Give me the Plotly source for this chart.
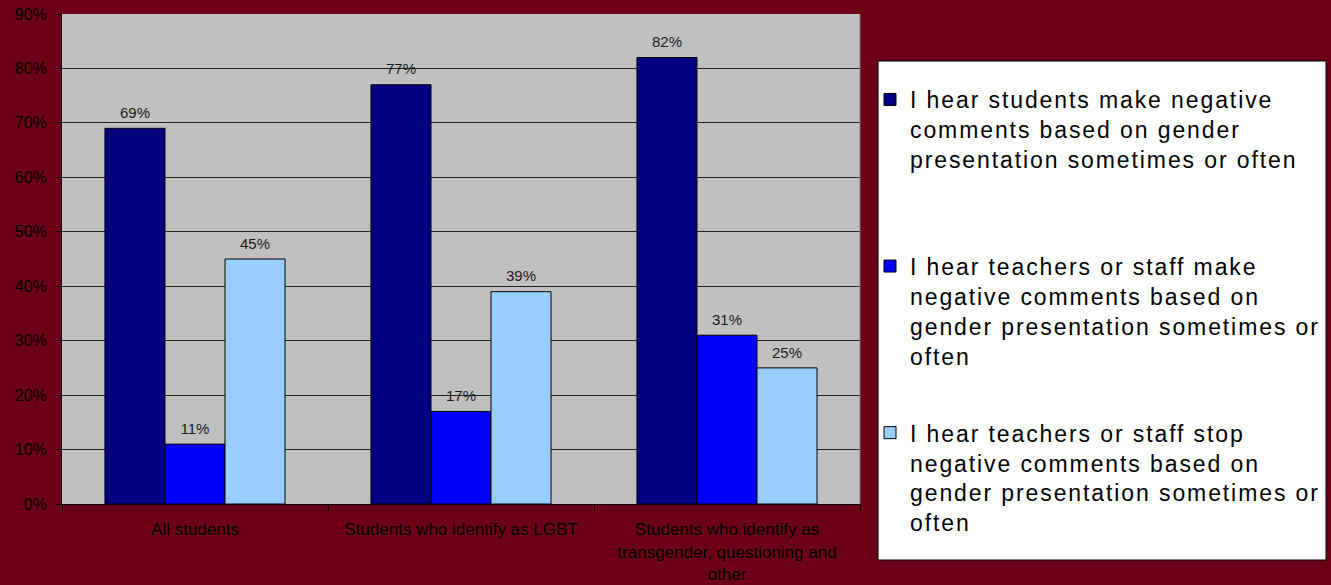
import plotly.graph_objects as go

categories = [
    "All students",
    "Students who identify as LGBT",
    "Students who identify as<br>transgender, questioning and<br>other",
]
series_names = [
    "I hear students make negative<br>comments based on gender<br>presentation sometimes or often<br> ",
    "I hear teachers or staff make<br>negative comments based on<br>gender presentation sometimes or<br>often",
    "I hear teachers or staff stop<br>negative comments based on<br>gender presentation sometimes or<br>often",
]
students_negative = [0.69, 0.77, 0.82]
staff_negative = [0.11, 0.17, 0.31]
staff_stop = [0.45, 0.39, 0.25]
series_values = [students_negative, staff_negative, staff_stop]
series_colors = ["#000080", "#0000FF", "#99CCFF"]
y_tick_values = [0, 0.1, 0.2, 0.3, 0.4, 0.5, 0.6, 0.7, 0.8, 0.9]
y_tick_labels = ["0%", "10%", "20%", "30%", "40%", "50%", "60%", "70%", "80%", "90%"]

W, H = 1331, 585
L, R, T, B = 62, 860, 14, 504
BARGAP = 0.323


def spaced(label):
    parts = label.split("<br>")
    return "<br>".join(
        '<span style="letter-spacing:1.9px">' + p + "</span>" if p.strip() else p
        for p in parts
    )


fig = go.Figure()
for i, (name, vals, col) in enumerate(zip(series_names, series_values, series_colors)):
    fig.add_trace(
        go.Bar(
            x=categories,
            y=vals,
            name=spaced(name),
            legendgroup=f"g{i}",
            offsetgroup=f"o{i}",
            marker=dict(color=col, line=dict(color="#000000", width=1)),
            hoverinfo="skip",
        )
    )
for i, vals in enumerate(series_values):
    fig.add_trace(
        go.Scatter(
            x=categories,
            y=vals,
            mode="markers+text",
            offsetgroup=f"o{i}",
            marker=dict(size=9, color="rgba(0,0,0,0)"),
            text=[f"{round(v*100)}%" for v in vals],
            textposition="top center",
            textfont=dict(family="Liberation Sans, Arial", size=15, color="#1a1a1a"),
            showlegend=False,
            cliponaxis=False,
            hoverinfo="skip",
        )
    )

px2x = lambda px: (px - L) / (R - L)
px2y = lambda py: (B - py) / (B - T)

fig.add_shape(
    type="rect", xref="paper", yref="paper",
    x0=px2x(878), x1=px2x(1326), y0=px2y(560), y1=px2y(61),
    fillcolor="#FFFFFF", line=dict(color="#000000", width=1), layer="below",
)
fig.add_shape(
    type="line", xref="paper", yref="paper",
    x0=1, x1=1, y0=0, y1=1,
    line=dict(color="#808080", width=1),
)

fig.update_layout(
    width=W, height=H,
    margin=dict(l=L, r=W - R, t=T, b=H - B, pad=0, autoexpand=False),
    paper_bgcolor="#6B0016",
    plot_bgcolor="#C0C0C0",
    barmode="group",
    bargap=BARGAP,
    bargroupgap=0,
    scattermode="group",
    scattergap=BARGAP,
    font=dict(family="Liberation Sans, Arial", color="#000000"),
    showlegend=True,
    legend=dict(
        x=px2x(870), y=px2y(78), xanchor="left", yanchor="top",
        bgcolor="rgba(0,0,0,0)", borderwidth=0,
        font=dict(family="Liberation Sans, Arial", size=23, color="#000000"),
        valign="top",
        tracegroupgap=44,
        traceorder="grouped",
    ),
    xaxis=dict(
        showline=True, linecolor="#000000", linewidth=1,
        ticks="outside", ticklen=6, tickcolor="#000000",
        tickson="boundaries",
        tickfont=dict(size=17, color="#000000"),
        ticklabelstandoff=10,
        showgrid=False,
        automargin=False,
    ),
    yaxis=dict(
        range=[0, 0.9],
        tickvals=y_tick_values, ticktext=y_tick_labels,
        showline=True, linecolor="#000000", linewidth=1,
        ticks="outside", ticklen=5, tickcolor="#000000",
        tickfont=dict(size=16, color="#000000"),
        ticklabelstandoff=6,
        showgrid=True, gridcolor="#222222", gridwidth=1,
        zeroline=False,
        automargin=False,
    ),
)

fig.write_html(
    "out.html",
    config={"displayModeBar": False},
    post_script="document.body.style.margin='0';document.body.style.padding='0';",
)
